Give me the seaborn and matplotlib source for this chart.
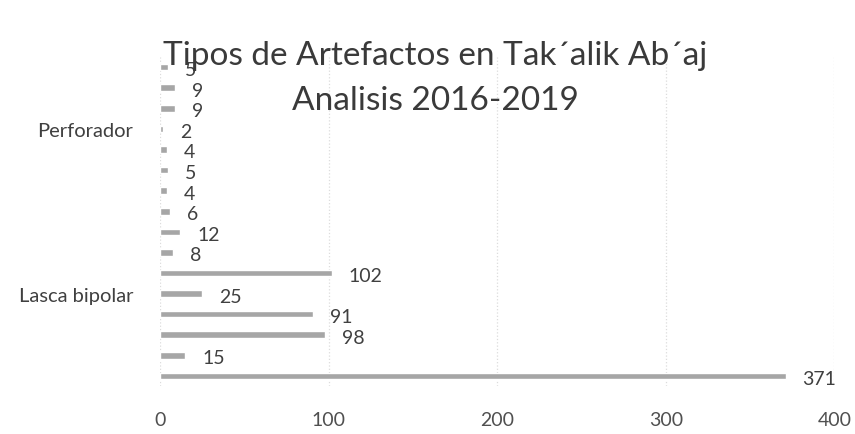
import matplotlib
matplotlib.use("Agg")
import matplotlib.pyplot as plt
import seaborn as sns
import pandas as pd

# bars listed top to bottom; only two category names are legible in the scan
tick_labels = ["", "", "", "Perforador", "", "", "", "", "",
               "", "", "Lasca bipolar", "", "", "", ""]
counts = [5, 9, 9, 2, 4, 5, 4, 6, 12, 8, 102, 25, 91, 98, 15, 371]
x_ticks = [0, 100, 200, 300, 400]
title_lines = ["Tipos de Artefactos en Tak\u00b4alik Ab\u00b4aj", "Analisis 2016-2019"]

sns.set_theme(style="white")
plt.rcParams['font.family'] = ['Lato', 'DejaVu Sans']

df = pd.DataFrame({'pos': range(len(counts)), 'count': counts})

fig = plt.figure(figsize=(8.55, 4.35), dpi=100)
ax = fig.add_axes([0.187, 0.110, 0.789, 0.757])

sns.barplot(data=df, x='count', y='pos', orient='h', color='#a6a6a6',
            width=0.32, saturation=1, ax=ax)

for i, v in enumerate(counts):
    ax.text(v + 10, i + 0.12, str(v), va='center', ha='left',
            fontsize=14, color='#404040')

ax.set_xlim(0, 400)
ax.set_xticks(x_ticks)
ax.set_xticklabels([str(t) for t in x_ticks], fontsize=14, color='#505050')
ax.set_yticks(range(len(tick_labels)))
ax.set_yticklabels(tick_labels, fontsize=14.5, color='#404040')
ax.tick_params(axis='both', length=0)
ax.tick_params(axis='x', pad=18)
ax.tick_params(axis='y', pad=19)
ax.set_xlabel('')
ax.set_ylabel('')
ax.xaxis.grid(True, color='#dcdcdc', linestyle=':', linewidth=0.9)
ax.set_axisbelow(True)
sns.despine(ax=ax, left=True, bottom=True)

# title overlaps the top bars, as in the original
fig.text(0.509, 1 - 65 / 435, title_lines[0], ha='center', va='baseline',
         fontsize=24, color='#3a3a3a')
fig.text(0.509, 1 - 110 / 435, title_lines[1], ha='center', va='baseline',
         fontsize=24, color='#3a3a3a')

fig.savefig("out.png", dpi=100)
